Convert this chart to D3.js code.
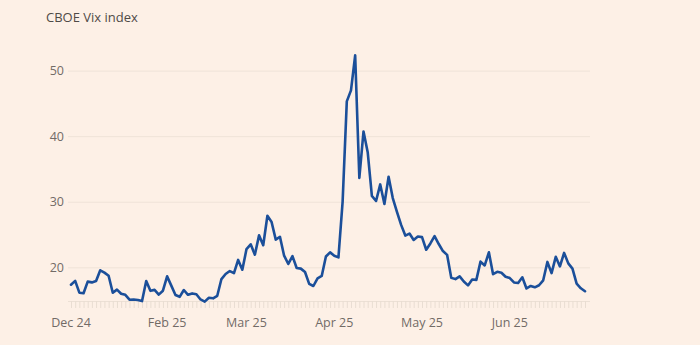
<!DOCTYPE html>
<html><head><meta charset="utf-8">
<script src="https://cdn.jsdelivr.net/npm/d3@7"></script>
<style>
html,body{margin:0;padding:0;background:#fdf0e6;}
svg{display:block;}
text{font-family:"Open Sans","Noto Sans",sans-serif;}
</style></head><body>
<svg id="c" width="700" height="345"></svg>
<script>
const dates = ["2024-12-31","2025-01-02","2025-01-03","2025-01-06","2025-01-07","2025-01-08","2025-01-09","2025-01-10","2025-01-13","2025-01-14","2025-01-15","2025-01-16","2025-01-17","2025-01-20","2025-01-21","2025-01-22","2025-01-23","2025-01-24","2025-01-27","2025-01-28","2025-01-29","2025-01-30","2025-01-31",
"2025-02-03","2025-02-04","2025-02-05","2025-02-06","2025-02-07","2025-02-10","2025-02-11","2025-02-12","2025-02-13","2025-02-14","2025-02-18","2025-02-19","2025-02-20","2025-02-21","2025-02-24","2025-02-25","2025-02-26","2025-02-27","2025-02-28",
"2025-03-03","2025-03-04","2025-03-05","2025-03-06","2025-03-07","2025-03-10","2025-03-11","2025-03-12","2025-03-13","2025-03-14","2025-03-17","2025-03-18","2025-03-19","2025-03-20","2025-03-21","2025-03-24","2025-03-25","2025-03-26","2025-03-27","2025-03-28","2025-03-31",
"2025-04-01","2025-04-02","2025-04-03","2025-04-04","2025-04-07","2025-04-08","2025-04-09","2025-04-10","2025-04-11","2025-04-14","2025-04-15","2025-04-16","2025-04-17","2025-04-21","2025-04-22","2025-04-23","2025-04-24","2025-04-25","2025-04-28","2025-04-29","2025-04-30",
"2025-05-01","2025-05-02","2025-05-05","2025-05-06","2025-05-07","2025-05-08","2025-05-09","2025-05-12","2025-05-13","2025-05-14","2025-05-15","2025-05-16","2025-05-19","2025-05-20","2025-05-21","2025-05-22","2025-05-23","2025-05-27","2025-05-28","2025-05-29","2025-05-30",
"2025-06-02","2025-06-03","2025-06-04","2025-06-05","2025-06-06","2025-06-09","2025-06-10","2025-06-11","2025-06-12","2025-06-13","2025-06-16","2025-06-17","2025-06-18","2025-06-20","2025-06-23","2025-06-24","2025-06-25","2025-06-26","2025-06-27"];

const vix = [17.35,17.93,16.13,16.04,17.82,17.70,17.9,19.54,19.19,18.71,16.12,16.60,15.97,15.8,15.06,15.10,15.02,14.85,17.90,16.41,16.56,15.84,16.43,
18.62,17.21,15.77,15.50,16.54,15.81,16.02,15.89,15.10,14.77,15.35,15.27,15.66,18.21,18.98,19.43,19.10,21.13,19.63,
22.78,23.51,21.93,24.87,23.37,27.86,26.92,24.23,24.66,21.77,20.51,21.70,19.90,19.80,19.28,17.48,17.15,18.33,18.69,21.65,22.28,
21.77,21.51,30.02,45.31,46.98,52.33,33.62,40.72,37.56,30.89,30.12,32.64,29.65,33.82,30.57,28.45,26.47,24.84,25.15,24.17,24.70,
24.60,22.68,23.64,24.76,23.55,22.48,21.90,18.39,18.2,18.62,17.83,17.24,18.14,18.09,20.87,20.28,22.29,18.96,19.31,19.18,18.57,
18.36,17.69,17.61,18.48,16.77,17.16,16.95,17.26,18.02,20.82,19.11,21.60,20.14,22.2,20.6,19.8,17.5,16.8,16.35];

const yTicks = [20,30,40,50];
const xTickDates = ["2024-12-31","2025-02-03","2025-03-03","2025-04-01","2025-05-01","2025-06-02"];
const xTickLabels = ["Dec 24","Feb 25","Mar 25","Apr 25","May 25","Jun 25"];
const title = "CBOE Vix index";

const svg = d3.select("#c");
const x = d3.scalePoint().domain(dates).range([71, 585]);
const y = d3.scaleLinear().domain([15, 50]).range([300.1, 70.6]);

svg.append("text").attr("x", 46).attr("y", 21.5)
  .attr("font-size", 13).attr("fill", "#4f4a47").text(title);

// y gridlines + labels
const yAxis = d3.axisLeft(y).tickValues(yTicks).tickSize(-522).tickPadding(4);
const gy = svg.append("g").attr("transform", "translate(590,0)");
const gy2 = svg.append("g").attr("transform", "translate(68,0)").call(d3.axisLeft(y).tickValues(yTicks).tickSize(-522).tickFormat(""));
gy2.select(".domain").remove();
gy2.selectAll(".tick line").attr("stroke", "#efe3d8").attr("stroke-width", 1);
svg.append("g").selectAll("text").data(yTicks).join("text")
  .attr("x", 64).attr("y", d => y(d)).attr("dy", "0.35em")
  .attr("text-anchor", "end").attr("font-size", 12.5).attr("fill", "#726b66")
  .text(d => d);

// x axis with daily ticks
const gx = svg.append("g").attr("transform", "translate(0,301)")
  .call(d3.axisBottom(x).tickValues(dates).tickSize(7).tickFormat(""));
gx.select(".domain").attr("stroke", "#ece0d5").attr("d", "M68,0.5H590");
gx.selectAll(".tick line").attr("stroke", "#e9ddd2");

const tickMap = new Map(xTickDates.map((d, i) => [d, xTickLabels[i]]));
svg.append("g").selectAll("text").data(xTickDates).join("text")
  .attr("x", d => x(d)).attr("y", 327)
  .attr("text-anchor", "middle").attr("font-size", 12.5).attr("fill", "#726b66")
  .text(d => tickMap.get(d));

const line = d3.line().x((d, i) => x(dates[i])).y(d => y(d));
svg.append("path").datum(vix).attr("d", line)
  .attr("fill", "none").attr("stroke", "#1b4f9a").attr("stroke-width", 2.6)
  .attr("stroke-linejoin", "round").attr("stroke-linecap", "round");
</script></body></html>
